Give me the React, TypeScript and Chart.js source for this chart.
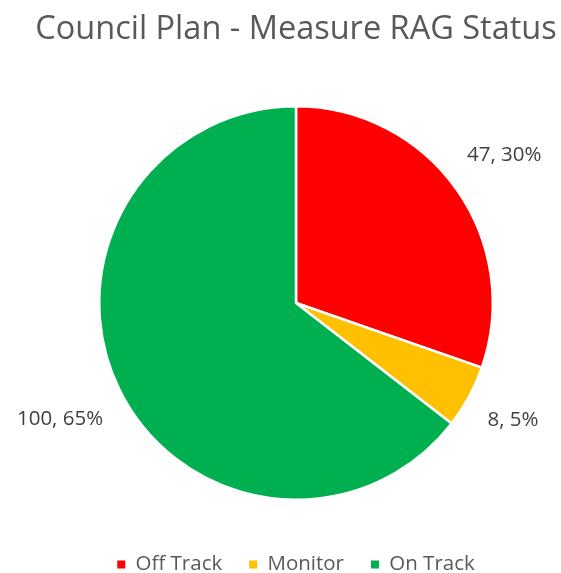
import React, { useEffect, useRef } from "react";
import { Chart, registerables } from "chart.js";

Chart.register(...registerables);

const titleText = "Council Plan - Measure RAG Status";
const categories = ["Off Track", "Monitor", "On Track"];
const values = [47, 8, 100];
const colors = ["#FF0000", "#FFC000", "#00B050"];

const FONT = "'Open Sans', 'Noto Sans', sans-serif";
const LABEL_SIZE = 20.5;
const LABEL_GAP = 24;

const outsideLabels = {
  id: "outsideLabels",
  afterDatasetsDraw(chart: any) {
    const ctx = chart.ctx;
    const meta = chart.getDatasetMeta(0);
    const ds = chart.data.datasets[0].data as number[];
    const total = ds.reduce((a, b) => a + b, 0);
    ctx.save();
    ctx.font = `${LABEL_SIZE}px ${FONT}`;
    ctx.fillStyle = "#404040";
    ctx.textAlign = "center";
    ctx.textBaseline = "middle";
    meta.data.forEach((arc: any, i: number) => {
      const p = arc.getProps(["x", "y", "startAngle", "endAngle", "outerRadius"], true);
      const mid = (p.startAngle + p.endAngle) / 2;
      const text = `${ds[i]}, ${Math.round((ds[i] / total) * 100)}%`;
      const w = ctx.measureText(text).width;
      const h = LABEL_SIZE * 0.75;
      const dx = Math.cos(mid);
      const dy = Math.sin(mid);
      const ext = Math.abs(dx) * (w / 2) + Math.abs(dy) * (h / 2);
      const d = p.outerRadius + LABEL_GAP + ext;
      ctx.fillText(text, p.x + dx * d, p.y + dy * d);
    });
    ctx.restore();
  },
};

export default function App() {
  const ref = useRef<HTMLCanvasElement | null>(null);

  useEffect(() => {
    if (!ref.current) return;
    const chart = new Chart(ref.current, {
      type: "pie",
      data: {
        labels: categories,
        datasets: [
          {
            data: values,
            backgroundColor: colors,
            borderColor: "#FFFFFF",
            borderWidth: 2.5,
          },
        ],
      },
      options: {
        animation: false,
        responsive: true,
        maintainAspectRatio: false,
        layout: { padding: { left: 31, right: 0, top: 0, bottom: -11.75 } },
        plugins: {
          title: {
            display: true,
            text: titleText,
            color: "#595959",
            font: { family: FONT, size: 32.5, weight: "normal" },
            padding: { top: 10, bottom: 56 },
          },
          legend: {
            position: "bottom",
            title: {
              display: true,
              text: "",
              font: { size: 10 },
              padding: { top: 7, bottom: 7.25 },
            },
            labels: {
              color: "#595959",
              font: { family: FONT, size: 20.5 },
              boxWidth: 8,
              boxHeight: 8,
              padding: 27,
              generateLabels: (c: any) =>
                Chart.overrides.pie.plugins.legend.labels
                  .generateLabels(c)
                  .map((l: any) => ({ ...l, lineWidth: 0, strokeStyle: "rgba(0,0,0,0)" })),
            },
          },
          tooltip: { enabled: false },
        },
      },
      plugins: [outsideLabels],
    });
    return () => chart.destroy();
  }, []);

  return (
    <div style={{ position: "fixed", left: 0, top: 0, width: 561, height: 573, background: "#fff" }}>
      <canvas ref={ref} />
    </div>
  );
}
